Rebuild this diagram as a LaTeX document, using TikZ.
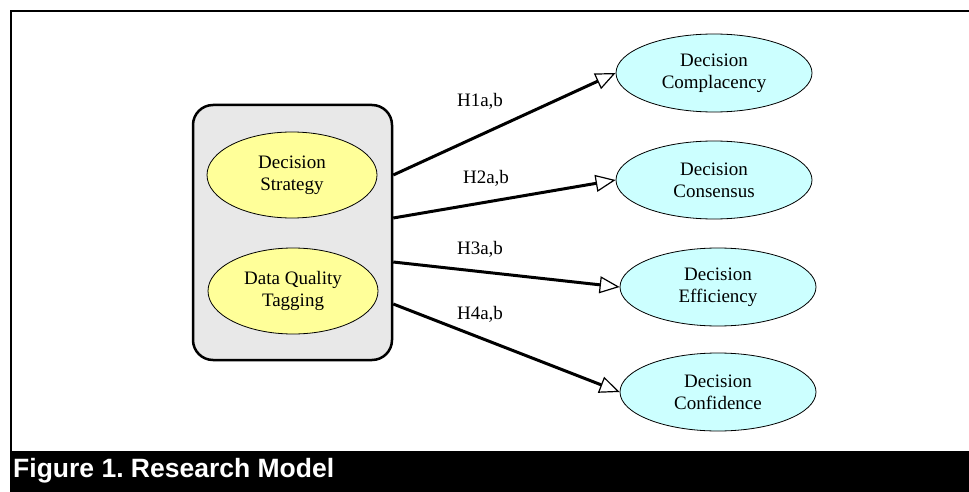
\documentclass[tikz,border=0pt]{standalone}
\usepackage{fontspec}
\setmainfont{Liberation Serif}
\newfontfamily\capfont{Liberation Sans}
\newfontfamily\lblfont{Liberation Serif}
\usetikzlibrary{shapes.geometric,arrows.meta}
\definecolor{ylw}{HTML}{FFFF99}
\definecolor{cyn}{HTML}{CCFFFF}
\definecolor{gry}{HTML}{E8E8E8}
\frenchspacing
\begin{document}
\begin{tikzpicture}[x=1pt,y=-1pt,
  txt/.style={font=\lblfont\fontsize{19}{22}\selectfont, align=center},
  innerell/.style={ellipse, draw, line width=0.8pt, fill=ylw, minimum width=170pt, minimum height=86pt, inner sep=0pt, txt},
  outerell/.style={ellipse, draw, line width=0.8pt, fill=cyn, minimum width=196pt, minimum height=78pt, inner sep=0pt, txt},
  groupbox/.style={draw, line width=2.5pt, fill=gry, rounded corners=20pt, minimum width=199pt, minimum height=255pt, inner sep=0pt},
  link/.style={line width=3pt, -{Triangle[open, length=20pt, width=17pt, line width'=1.2pt]}},
  hlabel/.style={txt, inner sep=0pt}]
\useasboundingbox (0,0) rectangle (969,492);
% frame
\draw[line width=2.5pt] (969,11) -- (11,11) -- (11,451);
\fill[black] (10,451) rectangle (969,492);
\node[anchor=base west, inner sep=0pt, text=white, font=\capfont\bfseries\fontsize{26.5}{30}\selectfont] (cap) at (13,477) {Figure 1. Research Model};
% group
\node[groupbox] (box) at (292.5,232.5) {};
\node[innerell] (ds) at (292,175) {Decision\\Strategy};
\node[innerell] (dq) at (293,291) {Data Quality\\Tagging};
% outcomes
\node[outerell] (c1) at (714,73) {Decision\\Complacency};
\node[outerell] (c2) at (714,180) {Decision\\Consensus};
\node[outerell] (c3) at (718,287) {Decision\\Efficiency};
\node[outerell] (c4) at (718,392) {Decision\\Confidence};
% start points on box edge
\path (box.east) ++(0,-57.5) coordinate (s1);
\path (box.east) ++(0,-14.5) coordinate (s2);
\path (box.east) ++(0,29.5) coordinate (s3);
\path (box.east) ++(0,71.5) coordinate (s4);
\draw[link] (s1) -- (c1.west);
\draw[link] (s2) -- (c2.west);
\draw[link] (s3) -- (c3.west);
\draw[link] (s4) -- (c4.west);
% labels
\node[hlabel] (h1) at (480,101) {H1a,b};
\node[hlabel] (h2) at (486,178) {H2a,b};
\node[hlabel] (h3) at (480,249) {H3a,b};
\node[hlabel] (h4) at (480,314) {H4a,b};
\end{tikzpicture}
\end{document}
